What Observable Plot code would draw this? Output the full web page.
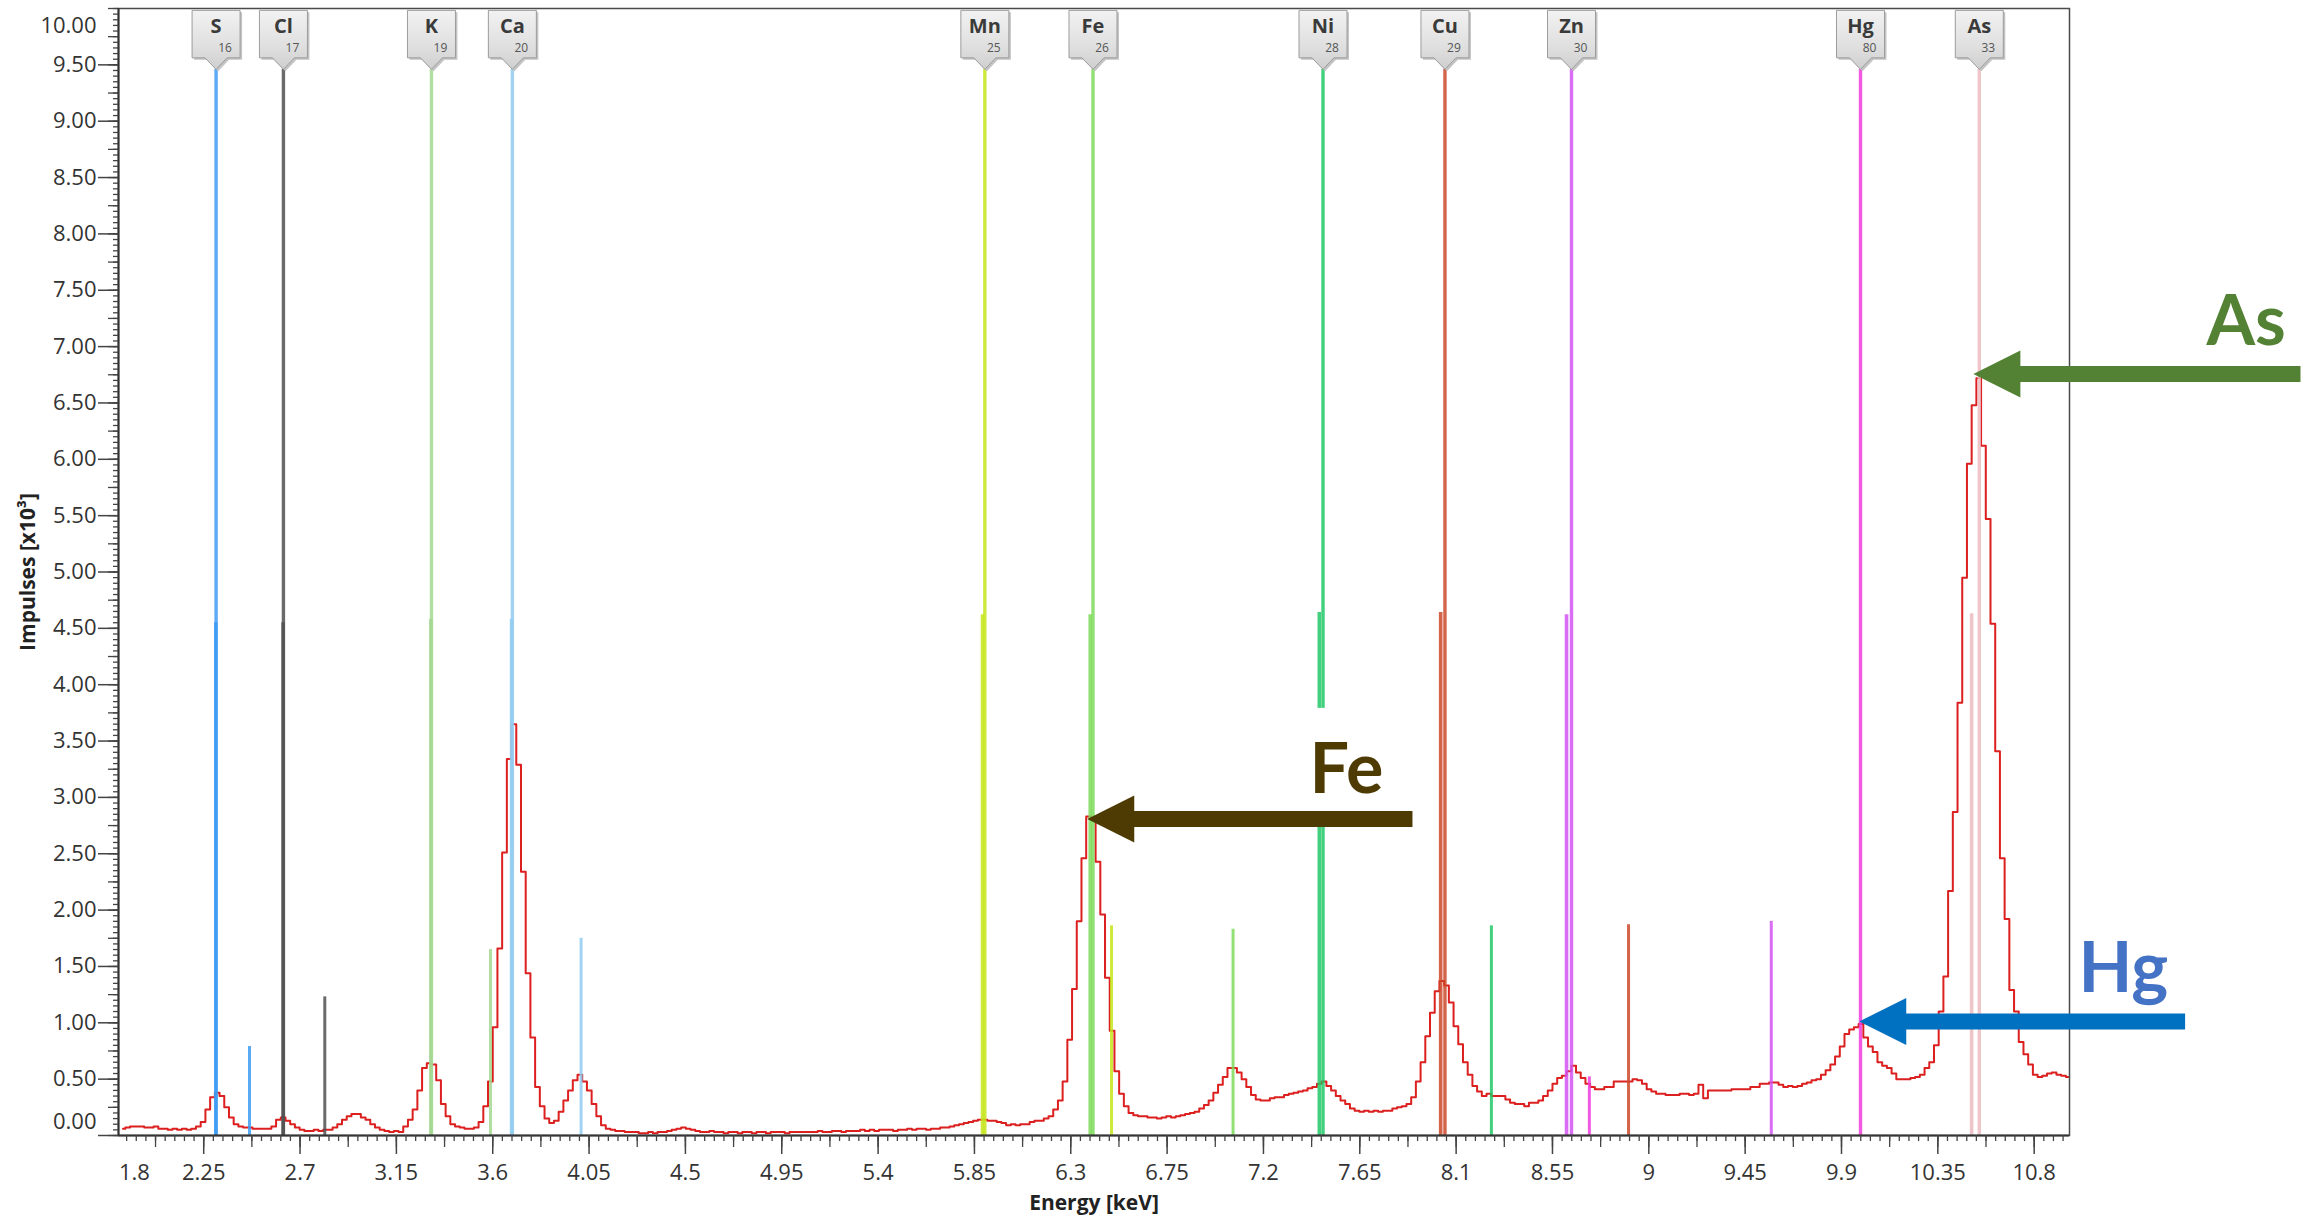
<!DOCTYPE html>
<html>
<head>
<meta charset="utf-8">
<script src="https://cdn.jsdelivr.net/npm/d3@7"></script>
<script src="https://cdn.jsdelivr.net/npm/@observablehq/plot@0.6"></script>
<style>
  html, body { margin: 0; padding: 0; background: #fff; }
  #chart svg { display: block; }
</style>
</head>
<body>
<div id="chart"></div>
<script>
// ---------------- DATA ----------------
// Spectrum: channel calibration + impulses (x10^3) per channel
const channelStartKeV = 1.873;
const channelWidthKeV = 0.022;
const impulses = [
  0.06,0.07,0.08,0.08,0.08,0.07,0.07,0.08,0.06,0.06,
  0.05,0.06,0.05,0.06,0.05,0.06,0.08,0.12,0.23,0.34,
  0.38,0.35,0.25,0.16,0.10,0.08,0.07,0.07,0.06,0.06,
  0.06,0.06,0.08,0.14,0.16,0.13,0.10,0.07,0.05,0.04,
  0.04,0.05,0.04,0.05,0.05,0.07,0.10,0.14,0.17,0.19,
  0.19,0.16,0.14,0.10,0.07,0.05,0.04,0.03,0.04,0.03,
  0.08,0.14,0.23,0.40,0.60,0.64,0.63,0.49,0.28,0.17,
  0.10,0.08,0.07,0.06,0.06,0.07,0.12,0.26,0.48,0.96,
  1.66,2.51,3.34,3.65,3.29,2.34,1.44,0.87,0.43,0.26,
  0.15,0.11,0.13,0.21,0.31,0.40,0.49,0.54,0.48,0.40,
  0.28,0.17,0.09,0.06,0.05,0.04,0.04,0.03,0.03,0.03,
  0.02,0.02,0.03,0.02,0.03,0.03,0.04,0.05,0.06,0.07,
  0.06,0.05,0.04,0.03,0.03,0.04,0.03,0.03,0.02,0.03,
  0.03,0.02,0.03,0.03,0.02,0.03,0.03,0.02,0.03,0.03,
  0.03,0.02,0.03,0.03,0.03,0.03,0.03,0.03,0.04,0.03,
  0.03,0.04,0.04,0.03,0.04,0.04,0.04,0.05,0.04,0.05,
  0.04,0.05,0.05,0.05,0.04,0.05,0.05,0.06,0.05,0.06,
  0.06,0.05,0.06,0.06,0.07,0.07,0.08,0.09,0.10,0.11,
  0.12,0.13,0.14,0.14,0.13,0.13,0.12,0.11,0.09,0.10,
  0.09,0.10,0.10,0.12,0.13,0.13,0.15,0.17,0.23,0.31,
  0.48,0.85,1.30,1.90,2.46,2.83,2.80,2.43,1.96,1.40,
  0.93,0.57,0.37,0.26,0.20,0.18,0.17,0.17,0.16,0.16,
  0.15,0.16,0.17,0.16,0.17,0.18,0.19,0.20,0.21,0.24,
  0.27,0.31,0.38,0.45,0.52,0.60,0.60,0.56,0.50,0.43,
  0.36,0.32,0.31,0.31,0.33,0.34,0.34,0.36,0.37,0.38,
  0.39,0.40,0.42,0.43,0.46,0.48,0.44,0.40,0.35,0.31,
  0.28,0.24,0.22,0.21,0.22,0.21,0.22,0.21,0.22,0.22,
  0.24,0.25,0.26,0.28,0.34,0.48,0.65,0.88,1.09,1.28,
  1.37,1.33,1.18,0.97,0.81,0.65,0.54,0.44,0.39,0.35,
  0.37,0.35,0.35,0.35,0.32,0.29,0.28,0.28,0.26,0.29,
  0.29,0.31,0.35,0.40,0.46,0.51,0.53,0.57,0.62,0.56,
  0.51,0.46,0.43,0.41,0.41,0.43,0.43,0.48,0.48,0.48,
  0.48,0.50,0.49,0.46,0.41,0.39,0.37,0.37,0.36,0.36,
  0.36,0.37,0.37,0.36,0.37,0.45,0.33,0.40,0.40,0.40,
  0.40,0.40,0.41,0.41,0.41,0.41,0.43,0.43,0.46,0.46,
  0.47,0.47,0.45,0.43,0.44,0.43,0.44,0.46,0.47,0.49,
  0.50,0.54,0.58,0.63,0.70,0.79,0.90,0.94,0.96,0.99,
  0.87,0.79,0.74,0.65,0.62,0.60,0.55,0.50,0.50,0.50,
  0.51,0.52,0.54,0.60,0.65,0.80,1.10,1.41,2.17,2.87,
  3.84,4.95,5.96,6.48,6.72,6.12,5.47,4.54,3.41,2.46,
  1.92,1.29,1.10,0.83,0.72,0.63,0.54,0.52,0.53,0.55,
  0.56,0.54,0.53,0.52
];

// Element markers
const elementSymbols = ["S","Cl","K","Ca","Mn","Fe","Ni","Cu","Zn","Hg","As"];
const atomicNumbers  = [16,17,19,20,25,26,28,29,30,80,33];
const elementColors  = ["#3d9bf3","#505050","#a3d891","#93cbf1","#c6e51a","#7edb5c","#20c866","#cb4829","#d253f2","#f13ddf","#ebbcc1"];
const alpha1KeV      = [2.3078,2.6224,3.3138,3.6917,5.8987,6.4038,7.4782,8.0478,8.6389,9.9888,10.5437];
const alpha2KeV      = [2.3066,2.6208,3.3111,3.6881,5.8877,6.3908,7.4609,8.0278,8.6158,null,10.5078];
const alpha2Impulses = [4.55,4.55,4.58,4.58,4.62,4.62,4.64,4.64,4.62,null,4.63];
const betaKeV        = [2.4640,2.8156,3.5896,4.0127,6.4904,7.0580,8.2647,8.9053,9.5720,8.7223,null];
const betaImpulses   = [0.79,1.23,1.65,1.75,1.86,1.83,1.86,1.87,1.90,0.52,null];
const markerImpulses = 9.46;

// Axis tick labels
const xTickLabels = [2.25,2.7,3.15,3.6,4.05,4.5,4.95,5.4,5.85,6.3,6.75,7.2,7.65,8.1,8.55,9,9.45,9.9,10.35,10.8];
const yTickLabels = [0.5,1,1.5,2,2.5,3,3.5,4,4.5,5,5.5,6,6.5,7,7.5,8,8.5,9,9.5];

// Annotations (callout arrows)
const noteLabels      = ["Fe","Hg","As"];
const noteTipKeV      = [6.377, 9.983, 10.516];
const noteTipImpulses = [2.808, 1.012, 6.757];
const noteTailKeV     = [7.896, 11.505, 12.044];
const noteTextKeV     = [7.588, 11.217, 11.79];
const noteTextImpulses= [3.239, 1.47, 7.211];
const noteTextColors  = ["#4d3b03","#4472c4","#548235"];
const noteArrowColors = ["#4d3b03","#0070c0","#548235"];

// ---------------- BUILD ----------------
const spectrum = impulses.map((value, i) => ({energy: channelStartKeV + i * channelWidthKeV, value}));
const lines = elementSymbols.map((sym, i) => ({
  sym, z: atomicNumbers[i], color: elementColors[i],
  a1: alpha1KeV[i], a2: alpha2KeV[i], a2h: alpha2Impulses[i], b: betaKeV[i], bh: betaImpulses[i]
}));
const a2Lines = lines.filter(d => d.a2 != null);
const bLines = lines.filter(d => d.b != null);
const notes = noteLabels.map((label, i) => ({
  label, tipX: noteTipKeV[i], tipY: noteTipImpulses[i], tailX: noteTailKeV[i],
  textX: noteTextKeV[i], textY: noteTextImpulses[i], textColor: noteTextColors[i], arrowColor: noteArrowColors[i]
}));

const xDomain = [1.852, 10.965];
const xGrid = d3.range(0, 205).map(i => ({v: +(1.8 + i * 0.045).toFixed(3), i}))
  .filter(d => d.v >= xDomain[0] - 1e-9 && d.v <= xDomain[1]);
const xMinor = xGrid.map(d => d.v);
const xMedium = xGrid.filter(d => d.i % 5 === 0).map(d => d.v);
const yGrid = d3.range(0, 201).map(i => ({v: +(i * 0.05).toFixed(2), i}));
const yMinor = yGrid.map(d => d.v);
const yMedium = yGrid.filter(d => d.i % 5 === 0).map(d => d.v);
const yMajor = yGrid.filter(d => d.i % 10 === 0 && d.v < 10).map(d => d.v);

const tagShape = {draw(ctx) {
  ctx.moveTo(-24, -59); ctx.lineTo(24, -59); ctx.lineTo(24, -11.5);
  ctx.lineTo(11, -11.5); ctx.lineTo(0, 0); ctx.lineTo(-11, -11.5);
  ctx.lineTo(-24, -11.5); ctx.closePath();
}};
const arrowHead = {draw(ctx) {
  ctx.moveTo(0, 0); ctx.lineTo(47, -23.5); ctx.lineTo(47, 23.5); ctx.closePath();
}};

const tickStroke = "#444";
const labelFont = "'Open Sans', sans-serif";

const chart = Plot.plot({
  width: 2304,
  height: 1221,
  marginLeft: 118,
  marginRight: 235,
  marginTop: 8,
  marginBottom: 86,
  style: {fontFamily: labelFont, background: "#fff", overflow: "visible"},
  x: {domain: xDomain, label: null},
  y: {domain: [0, 10], label: null},
  color: {type: "identity"},
  marks: [
    // spectrum
    Plot.line(spectrum, {x: "energy", y: "value", curve: "step", stroke: "#dc1f1f", strokeWidth: 2}),
    // element lines
    Plot.ruleX(a2Lines, {x: "a2", y1: 0, y2: "a2h", stroke: "color", strokeWidth: 3.6, strokeOpacity: 0.85}),
    Plot.ruleX(lines, {x: "a1", y1: 0, y2: markerImpulses, stroke: "color", strokeWidth: 3.4, strokeOpacity: 0.85}),
    Plot.ruleX(bLines, {x: "b", y1: 0, y2: "bh", stroke: "color", strokeWidth: 3, strokeOpacity: 0.85}),
    // frame and axis lines
    Plot.frame({stroke: "#4a4a4a", strokeWidth: 1.5}),
    Plot.ruleX([xDomain[0]], {stroke: "#333", strokeWidth: 2}),
    Plot.ruleY([0], {stroke: "#333", strokeWidth: 2}),
    // x axis ticks
    Plot.axisX(xMinor, {tickSize: 6, fill: "none", stroke: tickStroke, strokeWidth: 1.3, label: null}),
    Plot.axisX(xMedium, {tickSize: 12, fill: "none", stroke: tickStroke, strokeWidth: 1.3, label: null}),
    Plot.axisX(xTickLabels, {tickSize: 19, tickPadding: 10, stroke: tickStroke, strokeWidth: 1.5, fill: "#333",
      fontSize: 22, tickFormat: d => String(d), label: null}),
    Plot.axisX([1.8], {tickSize: 0, tickPadding: 29, dx: 27, fill: "#333", fontSize: 22,
      tickFormat: d => String(d), label: null}),
    // y axis ticks
    Plot.axisY(yMinor, {tickSize: 5, fill: "none", stroke: tickStroke, strokeWidth: 1.3, label: null}),
    Plot.axisY(yMedium, {tickSize: 10, fill: "none", stroke: tickStroke, strokeWidth: 1.3, label: null}),
    Plot.axisY(yMajor, {tickSize: 20, fill: "none", stroke: tickStroke, strokeWidth: 1.5, label: null}),
    Plot.axisY(yTickLabels, {tickSize: 0, tickPadding: 22, fill: "#333", fontSize: 22,
      tickFormat: d3.format(".2f"), label: null}),
    Plot.axisY([0], {tickSize: 0, tickPadding: 22, dy: -14, fill: "#333", fontSize: 22,
      tickFormat: d3.format(".2f"), label: null}),
    Plot.axisY([10], {tickSize: 0, tickPadding: 22, dy: 17, fill: "#333", fontSize: 22,
      tickFormat: d3.format(".2f"), label: null}),
    // element tags
    Plot.dot(lines, {x: "a1", y: markerImpulses, symbol: tagShape, fill: "#c4c4c4", stroke: "none", dx: 2, dy: 2}),
    Plot.dot(lines, {x: "a1", y: markerImpulses, symbol: tagShape, fill: "url(#tagGrad)", stroke: "#9c9c9c", strokeWidth: 1}),
    Plot.text(lines, {x: "a1", y: markerImpulses, text: "sym", dy: -43, fontSize: 20, fontWeight: "bold",
      fill: "#3a3a3a", fontFamily: labelFont}),
    Plot.text(lines, {x: "a1", y: markerImpulses, text: d => String(d.z), dx: 9, dy: -21.5, fontSize: 12,
      fill: "#555", fontFamily: labelFont}),
    // annotation: white backing box behind "Fe"
    Plot.rect([notes[0]], {x1: 7.37, x2: 7.82, y1: 2.875, y2: 3.79, fill: "#fff"}),
    // annotation arrows
    Plot.link(notes, {x1: d => d.tipX + 0.15, x2: "tailX", y1: "tipY", y2: "tipY", stroke: "arrowColor", strokeWidth: 16, strokeLinecap: "butt"}),
    Plot.dot(notes, {x: "tipX", y: "tipY", symbol: arrowHead, fill: "arrowColor", stroke: "none"}),
    Plot.text(notes, {x: "textX", y: "textY", text: "label", fill: "textColor", fontSize: 70, fontWeight: "bold",
      fontFamily: "Lato, 'Open Sans', sans-serif"}),
    // axis titles
    Plot.text(["Impulses [x10³]"], {frameAnchor: "left", textAnchor: "middle", lineAnchor: "middle", dx: -90, rotate: -90,
      fontSize: 21, fontWeight: "bold", fill: "#222"}),
    Plot.text(["Energy [keV]"], {frameAnchor: "bottom", textAnchor: "middle", lineAnchor: "middle", dy: 68,
      fontSize: 21, fontWeight: "bold", fill: "#222"})
  ]
});

// gradient for the element tags
const svgSel = d3.select(chart);
const defs = svgSel.insert("defs", ":first-child");
const grad = defs.append("linearGradient").attr("id", "tagGrad").attr("x1", 0).attr("y1", 0).attr("x2", 0).attr("y2", 1);
grad.append("stop").attr("offset", "0%").attr("stop-color", "#f2f2f2");
grad.append("stop").attr("offset", "60%").attr("stop-color", "#e0e0e0");
grad.append("stop").attr("offset", "100%").attr("stop-color", "#cfcfcf");

document.getElementById("chart").appendChild(chart);
</script>
</body>
</html>
